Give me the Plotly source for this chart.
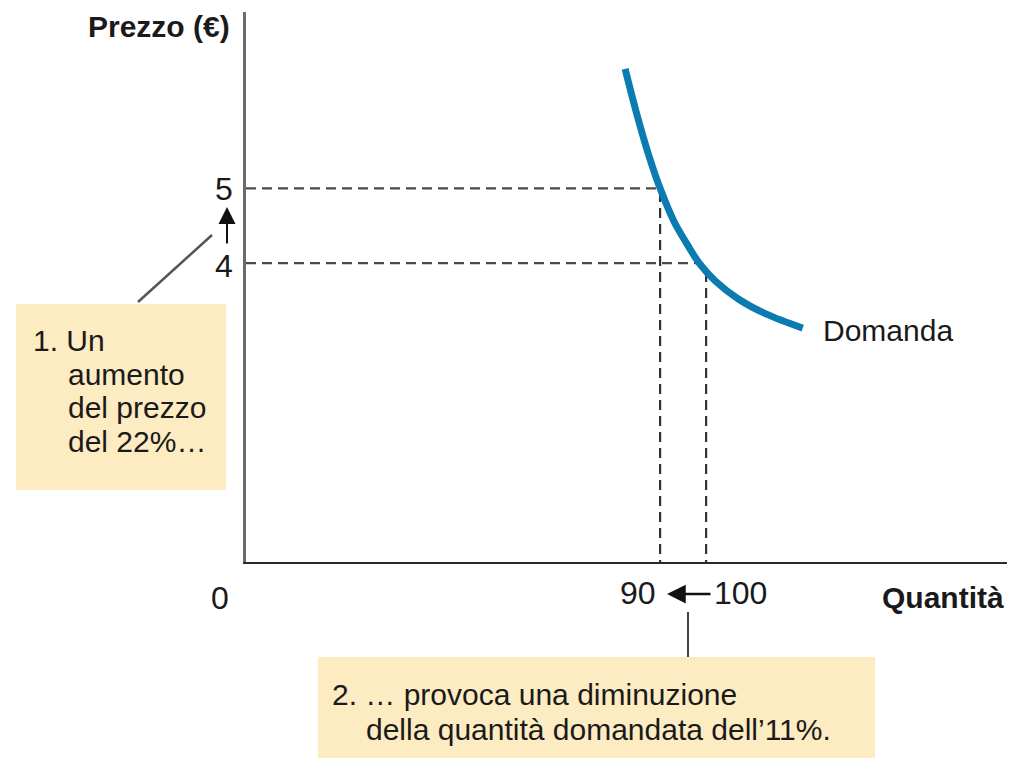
import plotly.graph_objects as go

# Curva di domanda
quantita = [82.4, 85.0, 87.5, 90.0, 93.0, 96.0, 98.5, 102.0, 107.0, 113.0, 121.0]
prezzo = [6.60, 5.98, 5.45, 5.00, 4.56, 4.24, 4.00, 3.76, 3.52, 3.32, 3.13]

# Punti di riferimento
q_punti = [90, 100]
p_punti = [5, 4]
q_fine_oriz = [90, 98.5]   # dove le linee orizzontali toccano la curva
p_inizio_vert = [4.95, 3.88]

# la pagina ha un margine di 8px attorno al grafico
OFF = 8
W, H = 1021 - OFF, 758 - OFF
L, R, T, B = 246 - OFF, 14, 12 - OFF, 196
FONT = "Liberation Sans, Arial, sans-serif"
GIALLO = "#fdebc1"


def px(x):
    return (x - OFF - L) / (W - L - R)


def py(y):
    return (H - B - (y - OFF)) / (H - T - B)


fig = go.Figure()

# linee tratteggiate
for i in range(len(q_punti)):
    fig.add_trace(go.Scatter(
        x=[0, q_fine_oriz[i]], y=[p_punti[i], p_punti[i]],
        mode="lines", line=dict(color="#4a4a4a", width=2.2, dash="10px,6px"),
        hoverinfo="skip", showlegend=False))
    fig.add_trace(go.Scatter(
        x=[q_punti[i], q_punti[i]], y=[p_inizio_vert[i], 0],
        mode="lines", line=dict(color="#333", width=2.2, dash="10px,6px"),
        hoverinfo="skip", showlegend=False))

# curva di domanda
fig.add_trace(go.Scatter(
    x=quantita, y=prezzo, mode="lines",
    line=dict(color="#0b7bb1", width=7, shape="spline"),
    showlegend=False))

shapes = [
    dict(type="rect", xref="paper", yref="paper", x0=px(16), x1=px(226), y0=py(490), y1=py(304),
         fillcolor=GIALLO, line=dict(width=0), layer="below"),
    dict(type="rect", xref="paper", yref="paper", x0=px(318), x1=px(875), y0=py(760), y1=py(657),
         fillcolor=GIALLO, line=dict(width=0), layer="below"),
    dict(type="line", xref="paper", yref="paper", x0=px(138), y0=py(302), x1=px(212), y1=py(235),
         line=dict(color="#555", width=2.5)),
    dict(type="line", xref="paper", yref="paper", x0=px(688), y0=py(612), x1=px(688), y1=py(657),
         line=dict(color="#444", width=2)),
]

annotations = []


def testo(t, x, y, xanchor="left", size=30, bold=False):
    annotations.append(dict(
        text=f"<b>{t}</b>" if bold else t, xref="paper", yref="paper",
        x=px(x), y=py(y), xanchor=xanchor, yanchor="middle", showarrow=False,
        font=dict(family=FONT, size=size, color="#1a1a1a")))


testo("Prezzo (€)", 232, 26, "right", bold=True)
testo("Quantità", 1006, 597, "right", bold=True)
testo("5", 235, 189, "right", size=32)
testo("4", 235, 266, "right", size=32)
testo("0", 231, 598, "right", size=32)
testo("90", 658, 593, "right", size=32)
testo("100", 712, 593, "left", size=32)
testo("Domanda", 821, 330, "left")

testo("1. Un", 31, 340)
testo("aumento", 66, 374)
testo("del prezzo", 66, 407)
testo("del 22%…", 66, 441)

testo("2. … provoca una diminuzione", 330, 694)
testo("della quantità domandata dell’11%.", 364, 729)

# frecce
annotations.append(dict(xref="paper", yref="paper", x=px(227), y=py(207), ax=0, ay=38,
                        text="", showarrow=True, arrowhead=2, arrowsize=1.7,
                        arrowwidth=2, arrowcolor="#111"))
annotations.append(dict(xref="paper", yref="paper", x=px(667), y=py(594), ax=45, ay=0,
                        text="", showarrow=True, arrowhead=2, arrowsize=1.5,
                        arrowwidth=2.5, arrowcolor="#111"))

fig.update_layout(
    width=W, height=H,
    margin=dict(l=L, r=R, t=T, b=B),
    paper_bgcolor="white", plot_bgcolor="white",
    shapes=shapes, annotations=annotations,
    xaxis=dict(range=[0, 165.4], showgrid=False, zeroline=False, showticklabels=False,
               showline=True, linecolor="#2a2a2a", linewidth=2),
    yaxis=dict(range=[0, 7.36], showgrid=False, zeroline=False, showticklabels=False,
               showline=True, linecolor="#6b6b6b", linewidth=3),
)

fig.write_html("out.html")
